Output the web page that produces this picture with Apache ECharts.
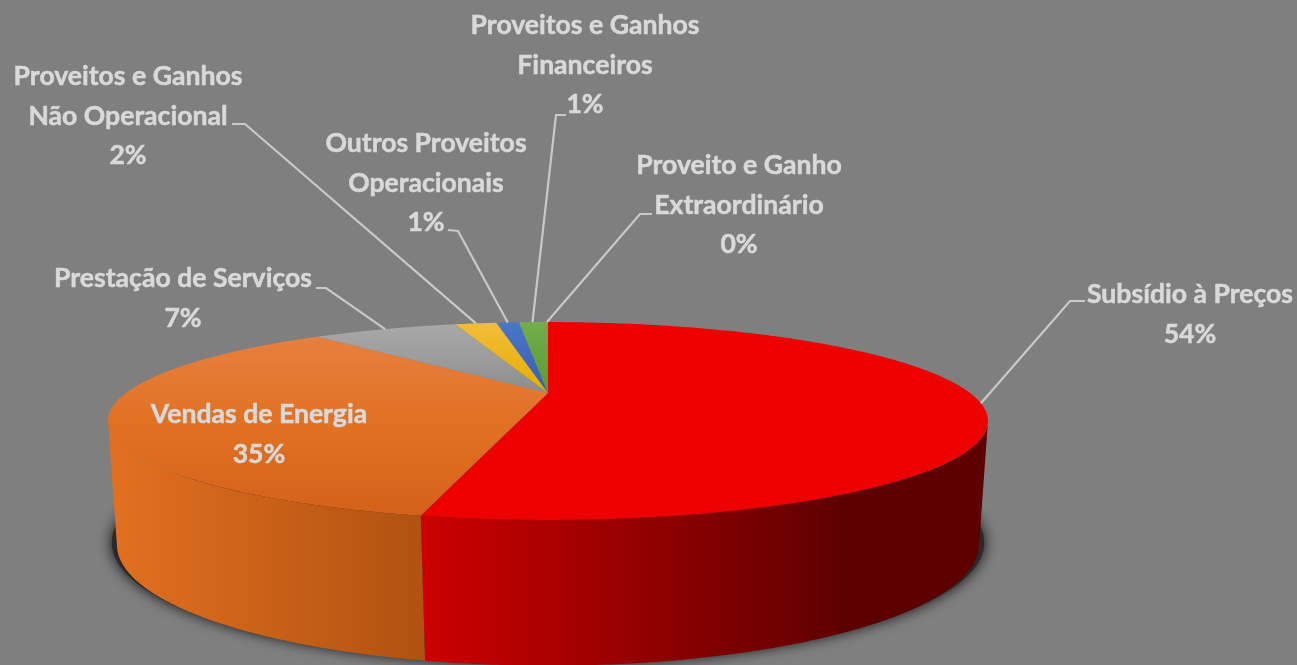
<!DOCTYPE html>
<html>
<head>
<meta charset="utf-8">
<style>html,body{margin:0;padding:0;background:#7f7f7f}#c{width:1297px;height:665px}</style>
<script src="https://cdn.jsdelivr.net/npm/echarts@6/dist/echarts.min.js"></script>
</head>
<body>
<div id="c"></div>
<script>
var categories = ['Subsídio à Preços','Vendas de Energia','Prestação de Serviços','Proveitos e Ganhos\nNão Operacional','Outros Proveitos\nOperacionais','Proveitos e Ganhos\nFinanceiros','Proveito e Ganho\nExtraordinário'];
var shares = [53.5, 35.0, 7.0, 2.0, 1.1, 1.3, 0.1];

// Layout and style, kept apart from the data
var labelCentres = [[1190,295],[259,415],[183,279],[128,77],[426,144],[585,26],[739,166]];
var leaderStarts = [[[1085,301],[1070,301]],null,[[316,288],[326,288]],[[232,124],[245,124]],[[448,230],[458,231]],[[566,115],[556,115]],[[652,214],[640,214]]];
var topFills = [['#ee0000','#ee0000','#ee0000'],['#e6803f','#e17122','#d5611a'],['#a8a8a8','#9c9c9c','#8c8c8c'],['#f0bd3a','#ecb41c','#e6ae00'],['#4a78c8','#4069bf','#3560b5'],['#72ae4c','#66a43e','#5c9a30'],['#72ae4c','#66a43e','#5c9a30']];
var wallFills = [[[0,'#e27020'],[1,'#b05210']],[[0,'#e27020'],[1,'#b05210']]];
wallFills[0] = [[0,'#cc0000'],[1,'#5c0000']];
var wallSpans = [[425,850],[112,424]];
var CX = 548, TOP = {y:393, A:91, B:422, k:0.283}, BASE = {y:512, A:112.2, B:415, k:0.27};
var WALL_FROM = 106.4, WALL_TO = 253.6;
var RAD = Math.PI/180;

function project(rim, deg, gx, gy) {
  var u = Math.sin(deg*RAD), v = -Math.cos(deg*RAD), w = 1 - rim.k*v;
  return [CX + (gx||1)*rim.B*u/w, rim.y + (gy||0) + rim.A*v/w];
}
function arc(rim, a, b) {
  var pts = [], n = Math.max(2, Math.ceil(Math.abs(b-a)/0.5));
  for (var i = 0; i <= n; i++) pts.push(project(rim, a+(b-a)*i/n));
  return pts;
}
var total = shares.reduce(function(s,x){return s+x;},0);

function renderItem(params, api) {
  var idx = params.dataIndex, before = 0;
  for (var i = 0; i < idx; i++) before += shares[i];
  var a0 = before/total*360, a1 = (before+api.value(1))/total*360, mid = (a0+a1)/2;
  var kids = [];
  if (idx === 0) {
    var ring = [];
    for (var d = 0; d < 360; d += 1) ring.push(project(BASE, d, 1.012, -2));
    kids.push({type:'polygon', shape:{points:ring}, style:{fill:'#2a2a2a', shadowBlur:14, shadowColor:'rgba(0,0,0,0.9)'}});
  }
  if (wallFills[idx]) {
    var w0 = Math.max(a0, WALL_FROM), w1 = Math.min(a1, WALL_TO);
    var pts = arc(TOP, w0, w1).concat(arc(BASE, w1, w0));
    kids.push({type:'polygon', shape:{points:pts}, style:{fill:{type:'linear', x:wallSpans[idx][0], y:0, x2:wallSpans[idx][1], y2:0, global:true,
      colorStops:wallFills[idx].map(function(s){return {offset:s[0], color:s[1]};})}}});
  }
  var top = [[CX, TOP.y]].concat(arc(TOP, a0, a1));
  kids.push({type:'polygon', shape:{points:top}, style:{fill:{type:'linear', x:0, y:0, x2:0, y2:1,
    colorStops:[{offset:0,color:topFills[idx][0]},{offset:0.5,color:topFills[idx][1]},{offset:1,color:topFills[idx][2]}]}}});
  if (leaderStarts[idx]) {
    kids.push({type:'polyline', z2:5, shape:{points:leaderStarts[idx].concat([project(TOP, mid)])}, style:{fill:null, stroke:'#c9c9c9', lineWidth:2.2}});
  }
  kids.push({type:'text', z2:10, x:labelCentres[idx][0], y:labelCentres[idx][1]-20, style:{
    text:categories[idx]+'\n'+Math.round(api.value(1)/total*100)+'%',
    fill:'#d9d9d9', font:'bold 26.6px Lato', align:'center', verticalAlign:'top', lineHeight:39.5,
    stroke:'#d9d9d9', lineWidth:0.5}});
  return {type:'group', children:kids};
}

var chart = echarts.init(document.getElementById('c'), null, {renderer:'canvas'});
chart.setOption({
  backgroundColor:'#7f7f7f',
  animation:false,
  series:[{type:'custom', coordinateSystem:'none', renderItem:renderItem,
    data:shares.map(function(v,i){return [i,v];})}]
});
</script>
</body>
</html>
